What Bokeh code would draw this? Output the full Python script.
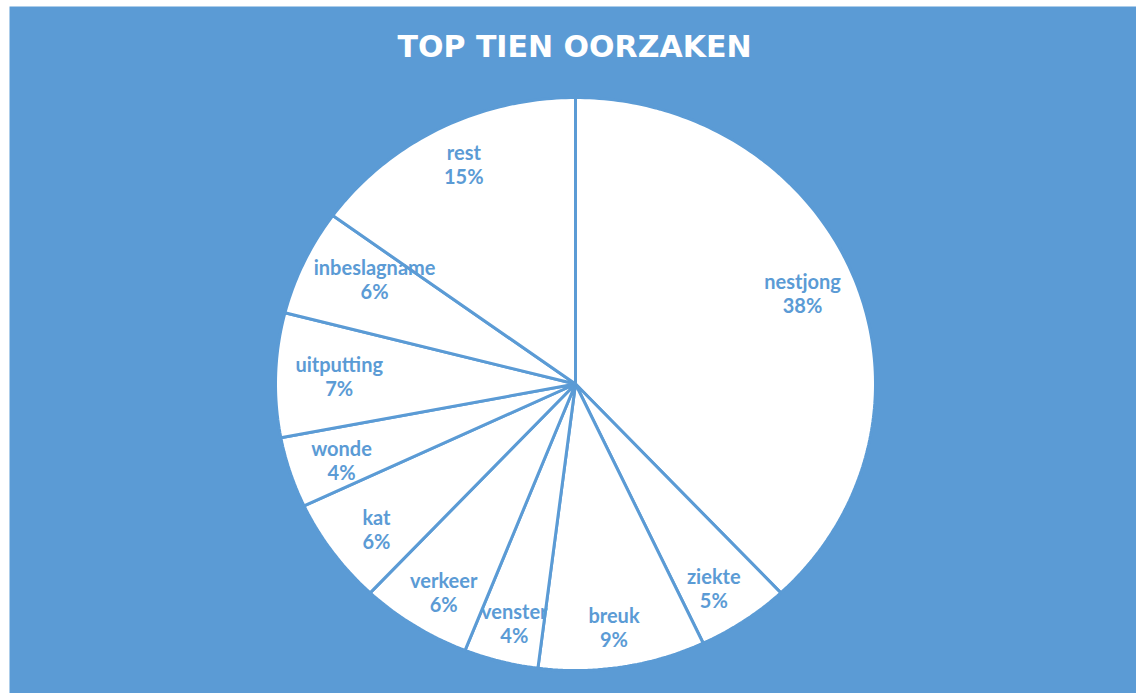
import numpy as np
from bokeh.plotting import figure
from bokeh.models import Range1d, ColumnDataSource
from bokeh.core.properties import value
from bokeh.embed import file_html
from bokeh.resources import INLINE

# ---- data ----
title = "TOP TIEN OORZAKEN"
categories = ["nestjong", "ziekte", "breuk", "venster", "verkeer",
              "kat", "wonde", "uitputting", "inbeslagname", "rest"]
percentages = [38, 5, 9, 4, 6, 6, 4, 7, 6, 15]

# ---- layout (pixel space) ----
W, H = 1136, 693
BLUE = "#5B9BD5"
cx, cy = 575, 383.5
rx, ry = 300, 286.5
fx, fy = 0.82, 0.86
FONT_PX = 20
CHAR_W = 0.5 * FONT_PX   # rough width estimate for keeping labels inside the pie
MARGIN = 13

p = figure(width=W, height=H, output_backend="svg", toolbar_location=None,
           x_range=Range1d(0, W), y_range=Range1d(H, 0), min_border=0,
           background_fill_color="white", border_fill_color="white")
p.axis.visible = False
p.grid.visible = False
p.outline_line_color = None

p.quad(left=[9], right=[W], top=[6], bottom=[H], fill_color=BLUE, line_color=None)

vals = np.array(percentages, dtype=float)
frac = vals / vals.sum()
ends = np.cumsum(frac) * 2 * np.pi
starts = ends - frac * 2 * np.pi


def half_span(y):
    d = min(abs(y - cy) / ry, 1.0)
    return rx * np.sqrt(1 - d * d)


xs, ys, lx, ly, names, pcts = [], [], [], [], [], []
for name, v, a0, a1 in zip(categories, percentages, starts, ends):
    n = max(int((a1 - a0) / (2 * np.pi) * 400), 4)
    t = np.linspace(a0, a1, n)
    px = np.concatenate([[cx], cx + rx * np.sin(t)])
    py = np.concatenate([[cy], cy - ry * np.cos(t)])
    xs.append(list(px))
    ys.append(list(py))
    m = (a0 + a1) / 2
    x = cx + fx * rx * np.sin(m)
    y = cy - fy * ry * np.cos(m)
    hw = len(name) * CHAR_W / 2
    span = min(half_span(y - 12), half_span(y + 12))
    x = min(max(x, cx - span + MARGIN + hw), cx + span - MARGIN - hw)
    lx.append(x)
    ly.append(y)
    names.append(name)
    pcts.append(f"{v}%")

p.patches(xs=xs, ys=ys, fill_color="white", line_color=BLUE, line_width=3)

src = ColumnDataSource(dict(x=lx, y=ly, name=names, pct=pcts))
for col, off in (("name", -12), ("pct", 12)):
    p.text(x="x", y="y", text=col, source=src, text_color=BLUE,
           text_font=value("Lato"), text_font_style="bold",
           text_font_size=f"{FONT_PX}px",
           text_align="center", text_baseline="middle", y_offset=off)

p.text(x=[574], y=[46], text=[title], text_color="white",
       text_font=value("DejaVu Sans"), text_font_style="bold", text_font_size="30px",
       text_align="center", text_baseline="middle")

open("out.html", "w").write(file_html(p, INLINE))
